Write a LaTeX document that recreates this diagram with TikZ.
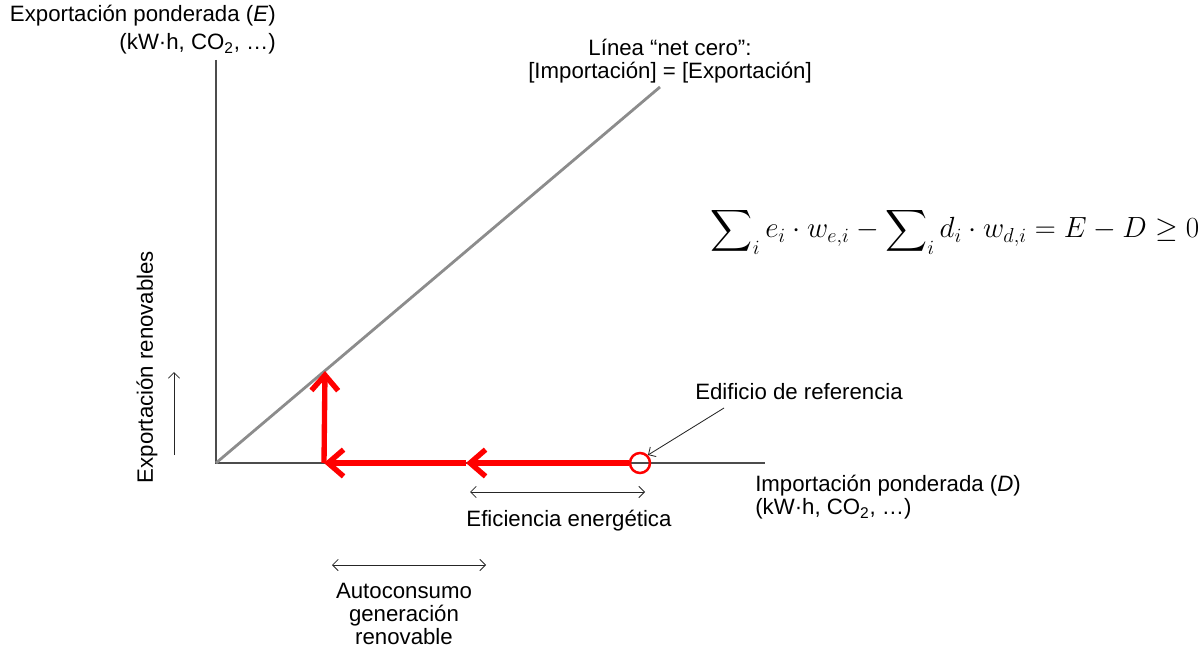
\documentclass[tikz,border=0pt]{standalone}
\usepackage{exscale}
\usepackage{fontspec}
\setmainfont{Liberation Sans}
\usetikzlibrary{arrows.meta,calc}

\begin{document}
\begin{tikzpicture}[x=0.025cm,y=-0.025cm]
        \tikzstyle{axe} = [draw=black!70, line width=1.1pt]
        \tikzstyle{ligne_nz} = [draw=black!45, line width=2pt]
        \tikzstyle{fleche_rouge} = [draw=red, line width=3.8pt, -{Straight Barb[length=11pt,width=19pt]}]
        \tikzstyle{fleche_fine} = [draw=black!85, line width=0.6pt, -{Straight Barb[length=4pt,width=8pt]}]
        \tikzstyle{double_fleche} = [draw=black!85, line width=0.6pt, {Straight Barb[length=4pt,width=8pt]}-{Straight Barb[length=4pt,width=8pt]}]
        \tikzstyle{texte} = [font=\fontsize{15.8}{16.6}\selectfont, inner sep=0pt, align=center]
        \useasboundingbox (0,0) rectangle (1199,650);
        % axes et ligne net zero
        \coordinate (origine) at (216,463);
        \coordinate (haut_y) at (216,60);
        \coordinate (fin_x) at (765,463);
        \coordinate (fin_nz) at (660,87);
        \draw[axe] (haut_y) -- (origine) -- (fin_x);
        \draw[ligne_nz] (origine) -- (fin_nz);
        % edifice et chemin vers net zero
        \node (ref) [circle, draw=red, line width=1.8pt, minimum size=0.5cm, inner sep=0pt] at (640,463) {};
        \coordinate (milieu) at (466,463);
        \coordinate (coin) at (324,463);
        \coordinate (pointe) at (325,371);
        \draw[fleche_rouge] (ref.west) -- (milieu);
        \draw[fleche_rouge] (milieu) -- (coin);
        \draw[fleche_rouge] (coin) -- (pointe);
        % textes
        \node (label_y) [texte, align=right, anchor=north east] at (276,5) {Exportación ponderada (\textit{E})\\[3pt](kW·h, CO\textsubscript{2}, …)};
        \node (label_nz) [texte] at (670,61) {Línea “net cero”:\\{}[Importación] = [Exportación]};
        \node (formule) [font=\fontsize{20.2}{24}\selectfont, inner sep=0pt] at (955,231) {$\displaystyle\sum\nolimits_i e_i\cdot w_{e,i}-\sum\nolimits_i d_i\cdot w_{d,i}=E-D\geq 0$};
        \node (label_renov) [texte, rotate=90] at (147,367) {Exportación renovables};
        \node (edificio) [texte] at (799,392) {Edificio de referencia};
        \node (label_x) [texte, align=left, anchor=west] at (755,497) {Importación ponderada (\textit{D})\\(kW·h, CO\textsubscript{2}, …)};
        \node (eficiencia) [texte] at (569,521) {Eficiencia energética};
        \node (autoconsumo) [texte] at (404,614) {Autoconsumo\\generación\\renovable};
        % fleches fines
        \coordinate (depart_ref) at (724,408);
        \draw[fleche_fine] (depart_ref) -- (ref.north east);
        \coordinate (bas_renov) at (174,455);
        \coordinate (haut_renov) at (174,372);
        \draw[fleche_fine] (bas_renov) -- (haut_renov);
        \coordinate (ef_g) at (470,492);
        \coordinate (ef_d) at (645,492);
        \draw[double_fleche] (ef_g) -- (ef_d);
        \coordinate (ac_g) at (332,565);
        \coordinate (ac_d) at (486,565);
        \draw[double_fleche] (ac_g) -- (ac_d);
\end{tikzpicture}
\end{document}
